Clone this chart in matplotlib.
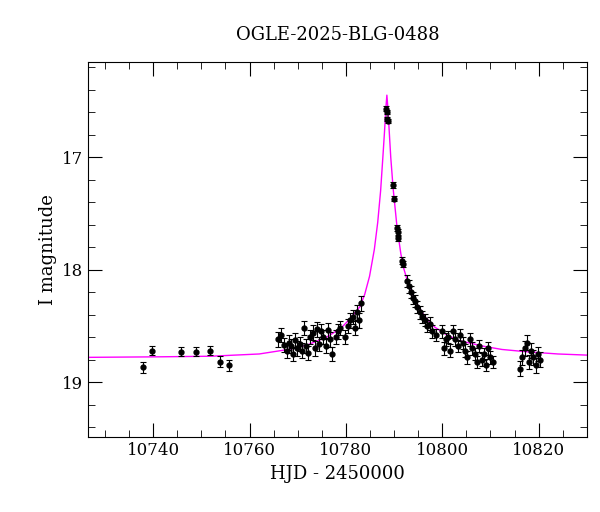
import matplotlib.pyplot as plt
from matplotlib.ticker import MultipleLocator

plt.rcParams['font.family'] = 'DejaVu Serif'

# observed points (HJD-2450000, I mag, error)
hjd = [10737.8, 10739.8, 10745.8, 10748.8, 10751.8, 10753.8, 10755.8,
       10765.9, 10766.6, 10767.2, 10767.7, 10768.2, 10768.6, 10769.1, 10769.5,
       10769.9, 10770.4, 10770.8, 10771.3, 10771.7, 10772.2, 10772.6, 10773.1,
       10773.5, 10774.0, 10774.4, 10774.9, 10775.3, 10775.8, 10776.2, 10776.7,
       10777.1, 10777.9, 10778.4, 10778.8, 10779.9, 10780.4, 10780.9, 10781.4,
       10781.8, 10782.3, 10782.7, 10783.1,
       10788.4, 10788.6, 10788.5, 10788.7, 10789.7, 10789.9, 10790.6, 10790.8,
       10790.9, 10791.7, 10791.9, 10792.7, 10793.0, 10793.6, 10793.9, 10794.4,
       10794.8, 10795.4, 10795.8, 10796.4, 10796.9, 10797.4, 10797.9, 10798.7,
       10799.9, 10800.3, 10800.7, 10801.2, 10801.7, 10802.2, 10802.7, 10803.2,
       10803.7, 10804.2, 10804.7, 10805.2, 10805.7, 10806.2, 10806.7, 10807.2,
       10807.7, 10808.2, 10808.7, 10809.1, 10809.5, 10810.0, 10810.6,
       10816.2, 10816.6, 10817.1, 10817.5, 10818.0, 10818.4, 10818.9, 10819.4,
       10819.8, 10820.2]
mag = [18.87, 18.72, 18.73, 18.73, 18.72, 18.82, 18.85,
       18.62, 18.58, 18.67, 18.72, 18.65, 18.68, 18.75, 18.63,
       18.70, 18.66, 18.72, 18.52, 18.68, 18.74, 18.60, 18.56,
       18.70, 18.53, 18.66, 18.55, 18.60, 18.68, 18.54, 18.62,
       18.75, 18.60, 18.55, 18.52, 18.60, 18.50, 18.45, 18.42,
       18.52, 18.38, 18.45, 18.30,
       16.57, 16.60, 16.66, 16.68, 17.25, 17.37, 17.63, 17.67,
       17.72, 17.92, 17.95, 18.10, 18.15, 18.20, 18.25, 18.28,
       18.33, 18.38, 18.42, 18.45, 18.50, 18.48, 18.55, 18.58,
       18.55, 18.70, 18.62, 18.60, 18.72, 18.55, 18.62, 18.68,
       18.58, 18.65, 18.72, 18.78, 18.62, 18.70, 18.75, 18.82,
       18.68, 18.80, 18.75, 18.85, 18.70, 18.78, 18.82,
       18.88, 18.78, 18.70, 18.65, 18.82, 18.72, 18.78, 18.85,
       18.75, 18.80]
err = [0.05, 0.04, 0.04, 0.04, 0.04, 0.05, 0.05] + [0.065] * 36 + \
      [0.02, 0.02, 0.02, 0.02, 0.025, 0.025, 0.03, 0.03, 0.03, 0.03, 0.03] + \
      [0.055] * 36 + [0.065] * 10

# model curve
model_t = [10726.5, 10742, 10752, 10762, 10768, 10772, 10776, 10779, 10781,
           10782.9, 10783.9, 10784.9, 10785.9, 10786.6, 10787.2, 10787.7,
           10788.0, 10788.3, 10788.5, 10788.7, 10789.0, 10789.3, 10789.8,
           10790.6, 10791.4, 10792.0, 10792.9, 10794.4, 10796.4, 10798.4, 10800.9,
           10803.4, 10808.4, 10812.4, 10817.4, 10824, 10830]
model_m = [18.78, 18.775, 18.77, 18.75, 18.71, 18.67, 18.60, 18.52, 18.43,
           18.33, 18.22, 18.06, 17.82, 17.58, 17.30, 16.98,
           16.78, 16.56, 16.45, 16.56, 16.78, 17.00, 17.28,
           17.62, 17.86, 17.99, 18.12, 18.28, 18.42, 18.51, 18.58,
           18.63, 18.68, 18.71, 18.73, 18.75, 18.76]

fig = plt.figure(figsize=(6, 5.12), dpi=100)
ax = fig.add_axes([0.147, 0.146, 0.831, 0.733])

ax.plot(model_t, model_m, color='magenta', lw=1, zorder=1)
ax.errorbar(hjd, mag, yerr=err, fmt='o', color='black', ms=3.5,
            elinewidth=0.8, capsize=2.5, capthick=0.8, zorder=2)

ax.set_xlim(10726.5, 10830)
ax.set_ylim(19.49, 16.155)
ax.xaxis.set_major_locator(MultipleLocator(20))
ax.xaxis.set_minor_locator(MultipleLocator(5))
ax.yaxis.set_major_locator(MultipleLocator(1))
ax.yaxis.set_minor_locator(MultipleLocator(0.2))
ax.tick_params(which='both', direction='in', top=True, right=True, labelsize=12)
ax.tick_params(which='major', length=10)
ax.tick_params(which='minor', length=5)

ax.set_xlabel('HJD - 2450000', fontsize=13)
ax.set_ylabel('I magnitude', fontsize=13)
ax.set_title('OGLE-2025-BLG-0488', fontsize=13, pad=16)

fig.savefig('out.png')
